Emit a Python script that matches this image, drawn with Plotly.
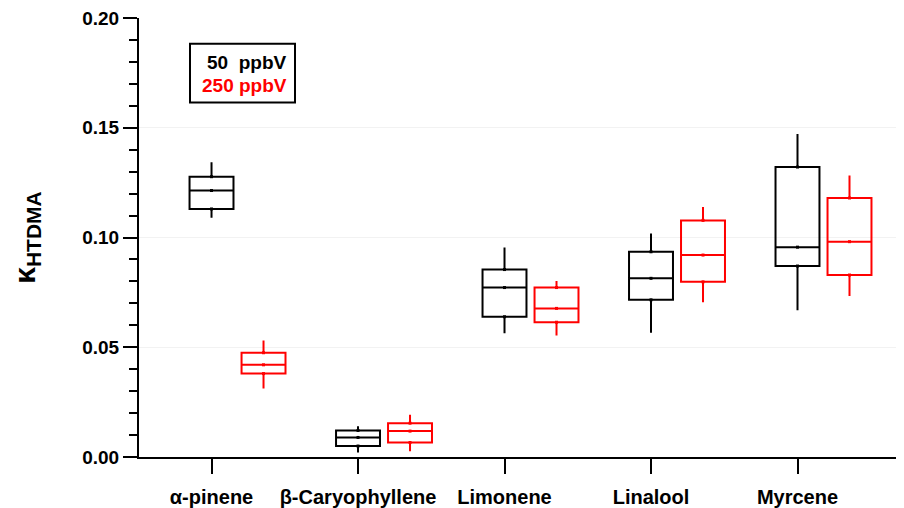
import numpy as np
import plotly.graph_objects as go

categories = ["α-pinene", "β-Caryophyllene", "Limonene", "Linalool", "Myrcene"]

# 50 ppbV (black)
low_50 = [0.109, 0.002, 0.0564, 0.0566, 0.0668]
q1_50 = [0.113, 0.0050, 0.0639, 0.0716, 0.0870]
med_50 = [0.1214, 0.0089, 0.0772, 0.0814, 0.0956]
q3_50 = [0.1277, 0.0121, 0.0854, 0.0935, 0.1321]
high_50 = [0.1343, 0.0140, 0.0955, 0.1018, 0.1471]

# 250 ppbV (red)
low_250 = [0.0312, 0.0026, 0.0553, 0.0705, 0.0734]
q1_250 = [0.0380, 0.0066, 0.0614, 0.0798, 0.0829]
med_250 = [0.0420, 0.0118, 0.0677, 0.0920, 0.0981]
q3_250 = [0.0475, 0.0154, 0.0772, 0.1078, 0.1180]
high_250 = [0.0531, 0.0193, 0.0802, 0.1139, 0.1282]

y_ticks = [0.00, 0.05, 0.10, 0.15, 0.20]

pos = np.arange(len(categories))
offset = 0.355
font_family = "Liberation Sans, Arial, sans-serif"

fig = go.Figure()

def add_series(x, lo, q1, med, q3, hi, color):
    fig.add_trace(go.Box(
        x=list(x), q1=q1, median=med, q3=q3, lowerfence=lo, upperfence=hi,
        width=0.3, whiskerwidth=0, boxpoints=False,
        line=dict(color=color, width=2), fillcolor="rgba(0,0,0,0)",
        showlegend=False, hoverinfo="skip"))
    xs = list(x) * 3
    ys = list(q1) + list(med) + list(q3)
    fig.add_trace(go.Scatter(
        x=xs, y=ys, mode="markers",
        marker=dict(symbol="square", size=3, color=color),
        showlegend=False, hoverinfo="skip"))

add_series(pos, low_50, q1_50, med_50, q3_50, high_50, "#000000")
add_series(pos + offset, low_250, q1_250, med_250, q3_250, high_250, "#ff0000")

# the page body has an 8px default margin, so the figure starts at (8, 8)
PAGE_OFF = 8
W, H = 904 - PAGE_OFF, 508 - PAGE_OFF
L, R, T, B = 139 - PAGE_OFF, 0, 18 - PAGE_OFF, 48
pw, ph = W - L - R, H - T - B

def px(x):
    return (x - PAGE_OFF - L) / pw

def py(y):
    return (H - B - (y - PAGE_OFF)) / ph

fig.add_shape(type="rect", xref="paper", yref="paper",
              x0=px(190), x1=px(295), y0=py(103), y1=py(44),
              line=dict(color="black", width=2))
fig.add_annotation(xref="paper", yref="paper", x=px(289), y=py(63),
                   text="<b>50  ppbV</b>", showarrow=False, xanchor="right",
                   yanchor="middle", font=dict(size=19, color="black", family=font_family))
fig.add_annotation(xref="paper", yref="paper", x=px(289), y=py(86),
                   text="<b>250 ppbV</b>", showarrow=False, xanchor="right",
                   yanchor="middle", font=dict(size=19, color="#ff0000", family=font_family))

fig.update_layout(
    width=W, height=H,
    margin=dict(l=L, r=R, t=T, b=B),
    plot_bgcolor="white", paper_bgcolor="white",
    font=dict(family=font_family, color="black"),
    boxmode="overlay",
    xaxis=dict(
        range=[-0.495, 4.727], tickvals=list(pos), ticktext=[f"<b>{c}</b>" for c in categories],
        showline=True, linecolor="black", linewidth=2,
        ticks="outside", ticklen=15, tickwidth=2, tickcolor="black",
        ticklabelstandoff=6, ticklabeloverflow="allow",
        showgrid=False, zeroline=False, tickfont=dict(size=20),
    ),
    yaxis=dict(
        range=[0, 0.20], tickvals=y_ticks, ticktext=[f"<b>{v:.2f}</b>" for v in y_ticks],
        showline=True, linecolor="black", linewidth=2,
        ticks="outside", ticklen=14, tickwidth=2, tickcolor="black",
        ticklabeloverflow="allow",
        minor=dict(dtick=0.01, ticks="outside", ticklen=8, tickwidth=2, tickcolor="black", showgrid=False),
        showgrid=True, gridcolor="#f2f2f2", gridwidth=1,
        zeroline=False, tickfont=dict(size=19),
        title=dict(text="<b>κ<sub>HTDMA</sub></b>",
                   font=dict(size=30), standoff=40),
    ),
)

fig.write_html("out.html")
